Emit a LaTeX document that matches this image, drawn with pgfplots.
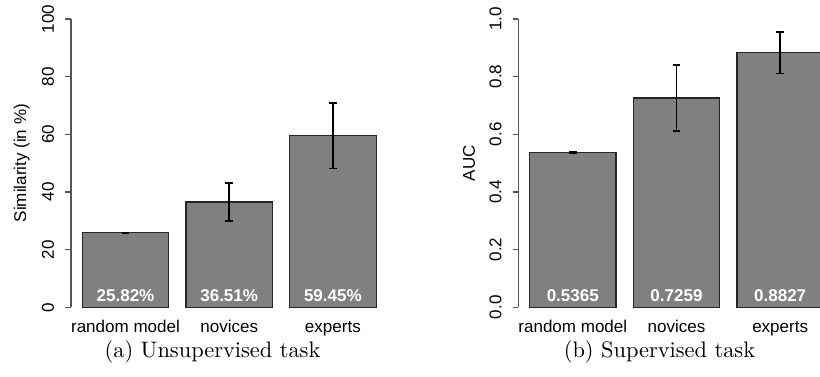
\documentclass[border=0pt]{standalone}
\usepackage{pgfplots}
\pgfplotsset{compat=1.18}
\usepackage{fontspec}
\newfontfamily\arial{Liberation Sans}
\newcommand\rfont{\arial\fontsize{7.6}{9}\selectfont}
\definecolor{barfill}{HTML}{808080}
\definecolor{axgray}{HTML}{555555}
\begin{document}
\begin{tikzpicture}
\pgfplotsset{
  rbar/.style={
    x=38.57pt, xmin=0.069, xmax=3.93, ymin=0,
    axis x line*=bottom, axis y line*=left,
    x axis line style={draw=none},
    y axis line style={draw=axgray, line width=0.5pt},
    xtick={0.7,1.9,3.1},
    xticklabels={random model, novices, experts},
    xtick style={draw=none},
    xticklabel style={font=\rfont, anchor=base, yshift=-8.8pt, inner sep=0pt},
    ytick style={draw=axgray, line width=0.5pt},
    tick align=outside, major tick length=2.5pt,
    yticklabel style={font=\rfont, xshift=-5.1pt, rotate=90, anchor=base, inner sep=0pt},
    /pgf/number format/assume math mode=true,
    clip=false,
  },
  rplot/.style={ybar, bar width=1, fill=barfill, draw=black!85, line width=0.5pt,
    error bars/.cd, y dir=both, y explicit,
    error bar style={black, line width=0.75pt},
    error mark options={rotate=90, mark size=1.7pt, line width=0.75pt, black}},
}
\begin{axis}[rbar, at={(31.70pt,31.12pt)}, anchor=south west,
  y=1.2871pt, ymax=100, ytick={0,20,...,100}]
\addplot[rplot] coordinates {
  (0.7,25.82) +- (0,0.15)
  (1.9,36.51) +- (0,6.55)
  (3.1,59.45) +- (0,11.35)
};
\node[font=\rfont\bfseries, text=white, anchor=base] at (axis cs:0.7,0) [yshift=2.5pt] {25.82\%};
\node[font=\rfont\bfseries, text=white, anchor=base] at (axis cs:1.9,0) [yshift=2.5pt] {36.51\%};
\node[font=\rfont\bfseries, text=white, anchor=base] at (axis cs:3.1,0) [yshift=2.5pt] {59.45\%};
\node[font=\rfont, rotate=90, anchor=base] at ([xshift=-20pt]rel axis cs:0,0.5) {Similarity (in \%)};
\end{axis}
\begin{axis}[rbar, at={(231.38pt,31.12pt)}, anchor=south west,
  y=128.71pt, ymax=1, ytick={0,0.2,...,1},
  yticklabel style={/pgf/number format/.cd, fixed, precision=1, zerofill}]
\addplot[rplot] coordinates {
  (0.7,0.5365) +- (0,0.0015)
  (1.9,0.7259) +- (0,0.1155)
  (3.1,0.8827) +- (0,0.0715)
};
\node[font=\rfont\bfseries, text=white, anchor=base] at (axis cs:0.7,0) [yshift=2.5pt] {0.5365};
\node[font=\rfont\bfseries, text=white, anchor=base] at (axis cs:1.9,0) [yshift=2.5pt] {0.7259};
\node[font=\rfont\bfseries, text=white, anchor=base] at (axis cs:3.1,0) [yshift=2.5pt] {0.8827};
\node[font=\rfont, rotate=90, anchor=base] at ([xshift=-19.4pt]rel axis cs:0,0.5) {AUC};
\end{axis}
\node[anchor=base] at (94.87pt,8.79pt) {(a) Unsupervised task};
\node[anchor=base] at (294.4pt,8.79pt) {(b) Supervised task};
\pgfresetboundingbox
\useasboundingbox (0,0) rectangle (366.07pt,168.3pt);
\end{tikzpicture}
\end{document}
